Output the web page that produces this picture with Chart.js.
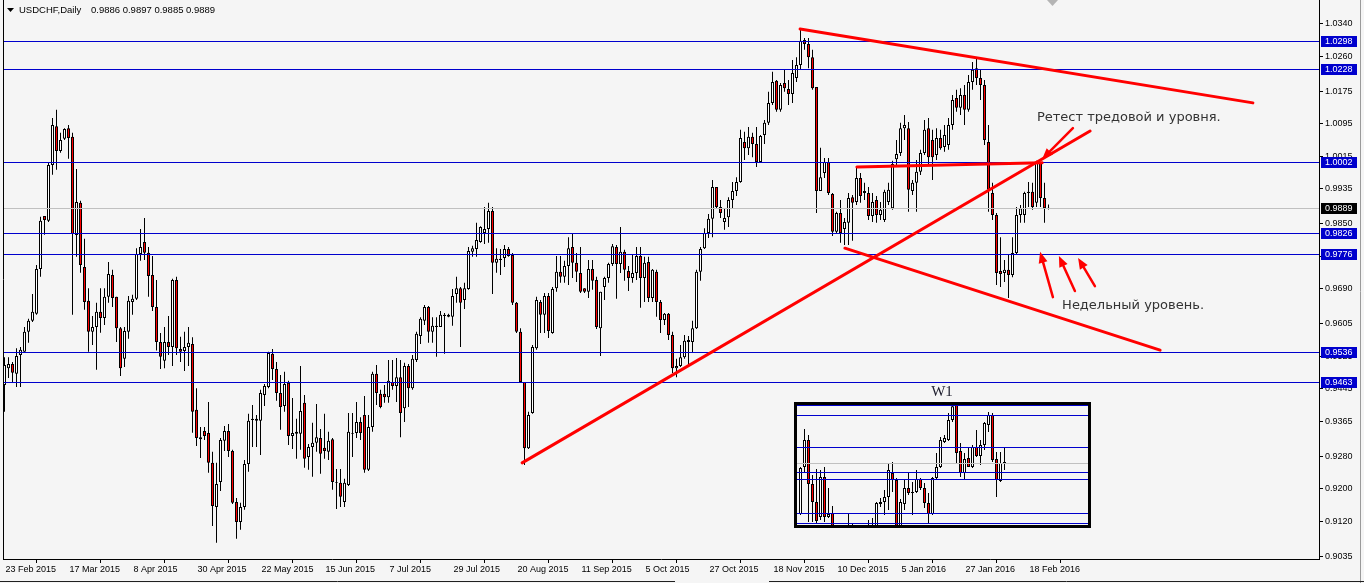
<!DOCTYPE html>
<html>
<head>
<meta charset="utf-8">
<title>USDCHF,Daily</title>
<script src="https://cdn.jsdelivr.net/npm/chart.js@4.4.1/dist/chart.umd.min.js"></script>
<style>
html, body { margin: 0; padding: 0; background: #f5f5f5; }
#wrap { position: relative; width: 1364px; height: 583px; overflow: hidden; background: #f5f5f5; }
#main { position: absolute; left: 0; top: 0; }
#inset { position: absolute; left: 794px; top: 402px; width: 297px; height: 126px; border: 3px solid #000; box-sizing: border-box; background: #f5f5f5; }
#w1 { position: absolute; left: 918px; top: 383px; width: 48px; text-align: center; font: 15px "Liberation Serif", serif; color: #1c1c2c; }
</style>
</head>
<body>
<div id="wrap">
  <canvas id="main" width="1364" height="583" style="width:1364px;height:583px"></canvas>
  <div id="w1">W1</div>
  <div id="inset"><canvas id="weekly" width="291" height="120" style="width:291px;height:120px;display:block"></canvas></div>
</div>
<script>
// daily USDCHF candles, 23 Feb 2015 .. 24 Feb 2016
const opens = [
  0.9455, 0.9496, 0.9506, 0.9482, 0.9528, 0.9536, 0.9585, 0.9612, 0.9629, 0.9739,
  0.9869, 0.9857, 0.9994, 1.0089, 1.0028, 1.0058, 1.0084, 1.0063, 0.9822, 0.9901,
  0.9744, 0.9661, 0.9585, 0.9597, 0.9634, 0.9619, 0.9671, 0.9724, 0.9671, 0.9594,
  0.9519, 0.9585, 0.9658, 0.9666, 0.9776, 0.9805, 0.9779, 0.9724, 0.9646, 0.9560,
  0.9514, 0.9560, 0.9548, 0.9712, 0.9543, 0.9538, 0.9548, 0.9555, 0.9394, 0.9322,
  0.9342, 0.9337, 0.9264, 0.9156, 0.9217, 0.9318, 0.9342, 0.9293, 0.9168, 0.9119,
  0.9156, 0.9261, 0.9369, 0.9372, 0.9367, 0.9430, 0.9450, 0.9531, 0.9494, 0.9435,
  0.9403, 0.9460, 0.9330, 0.9340, 0.9335, 0.9411, 0.9278, 0.9303, 0.9313, 0.9325,
  0.9301, 0.9291, 0.9322, 0.9217, 0.9215, 0.9168, 0.9210, 0.9337, 0.9337, 0.9364,
  0.9381, 0.9247, 0.9352, 0.9482, 0.9433, 0.9433, 0.9425, 0.9462, 0.9452, 0.9474,
  0.9398, 0.9501, 0.9447, 0.9516, 0.9575, 0.9612, 0.9646, 0.9585, 0.9597, 0.9597,
  0.9624, 0.9627, 0.9622, 0.9678, 0.9692, 0.9663, 0.9690, 0.9781, 0.9788, 0.9805,
  0.9827, 0.9837, 0.9881, 0.9754, 0.9761, 0.9766, 0.9788, 0.9773, 0.9656, 0.9585,
  0.9462, 0.9300, 0.9386, 0.9545, 0.9658, 0.9627, 0.9673, 0.9582, 0.9692, 0.9732,
  0.9720, 0.9746, 0.9793, 0.9754, 0.9729, 0.9692, 0.9683, 0.9739, 0.9712, 0.9594,
  0.9695, 0.9717, 0.9751, 0.9793, 0.9751, 0.9781, 0.9734, 0.9717, 0.9729, 0.9771,
  0.9717, 0.9756, 0.9668, 0.9732, 0.9658, 0.9614, 0.9629, 0.9577, 0.9496, 0.9501,
  0.9523, 0.9560, 0.9560, 0.9594, 0.9732, 0.9790, 0.9827, 0.9862, 0.9940, 0.9891,
  0.9854, 0.9866, 0.9908, 0.9930, 0.9952, 1.0050, 1.0035, 1.0063, 1.0045, 1.0001,
  1.0067, 1.0097, 1.0146, 1.0200, 1.0129, 1.0195, 1.0180, 1.0168, 1.0207, 1.0239,
  1.0300, 1.0290, 1.0258, 1.0185, 0.9930, 0.9974, 1.0001, 0.9923, 0.9830, 0.9876,
  0.9837, 0.9852, 0.9915, 0.9903, 0.9962, 0.9930, 0.9925, 0.9869, 0.9908, 0.9871,
  0.9859, 0.9903, 0.9888, 1.0008, 1.0023, 1.0084, 1.0084, 0.9930, 0.9950, 0.9977,
  1.0023, 1.0084, 1.0055, 1.0018, 1.0060, 1.0038, 1.0043, 1.0092, 1.0158, 1.0134,
  1.0165, 1.0129, 1.0197, 1.0231, 1.0207, 1.0190, 1.0050, 0.9925, 0.9871, 0.9734,
  0.9729, 0.9737, 0.9724, 0.9778, 0.9871, 0.9871, 0.9925, 0.9928, 0.9901, 0.9999,
  0.9913, 0.9886
];
const highs = [
  0.9523, 0.9523, 0.9511, 0.9545, 0.9548, 0.9597, 0.9617, 0.9678, 0.9749, 0.9867,
  0.9869, 1.0001, 1.0109, 1.0129, 1.0073, 1.0084, 1.0092, 1.0073, 0.9984, 0.9906,
  0.9813, 0.9692, 0.9624, 0.9656, 0.9692, 0.9692, 0.9756, 0.9737, 0.9671, 0.9597,
  0.9597, 0.9673, 0.9676, 0.9790, 0.9837, 0.9864, 0.9793, 0.9771, 0.9712, 0.9582,
  0.9597, 0.9624, 0.9715, 0.9720, 0.9573, 0.9585, 0.9597, 0.9572, 0.9447, 0.9352,
  0.9352, 0.9413, 0.9291, 0.9264, 0.9325, 0.9354, 0.9359, 0.9296, 0.9178, 0.9166,
  0.9271, 0.9384, 0.9406, 0.9381, 0.9443, 0.9457, 0.9536, 0.9543, 0.9511, 0.9479,
  0.9487, 0.9465, 0.9423, 0.9372, 0.9501, 0.9430, 0.9310, 0.9362, 0.9408, 0.9347,
  0.9384, 0.9340, 0.9325, 0.9249, 0.9249, 0.9225, 0.9386, 0.9386, 0.9413, 0.9376,
  0.9428, 0.9381, 0.9487, 0.9504, 0.9443, 0.9455, 0.9516, 0.9516, 0.9521, 0.9516,
  0.9509, 0.9506, 0.9528, 0.9585, 0.9621, 0.9651, 0.9648, 0.9621, 0.9621, 0.9636,
  0.9631, 0.9629, 0.9690, 0.9720, 0.9695, 0.9705, 0.9793, 0.9796, 0.9852, 0.9844,
  0.9891, 0.9901, 0.9891, 0.9790, 0.9788, 0.9798, 0.9793, 0.9778, 0.9658, 0.9594,
  0.9462, 0.9389, 0.9553, 0.9671, 0.9663, 0.9680, 0.9680, 0.9695, 0.9771, 0.9771,
  0.9759, 0.9817, 0.9825, 0.9778, 0.9793, 0.9692, 0.9761, 0.9761, 0.9720, 0.9683,
  0.9720, 0.9754, 0.9800, 0.9798, 0.9842, 0.9786, 0.9746, 0.9773, 0.9793, 0.9793,
  0.9769, 0.9769, 0.9739, 0.9737, 0.9663, 0.9631, 0.9631, 0.9585, 0.9519, 0.9553,
  0.9577, 0.9575, 0.9612, 0.9737, 0.9793, 0.9839, 0.9874, 0.9957, 0.9940, 0.9908,
  0.9888, 0.9915, 0.9952, 0.9964, 1.0080, 1.0075, 1.0087, 1.0073, 1.0087, 1.0067,
  1.0104, 1.0173, 1.0222, 1.0202, 1.0195, 1.0227, 1.0202, 1.0251, 1.0258, 1.0329,
  1.0305, 1.0305, 1.0276, 1.0185, 1.0036, 1.0011, 1.0011, 0.9925, 0.9879, 0.9908,
  0.9864, 0.9925, 0.9920, 0.9989, 0.9974, 0.9950, 0.9940, 0.9925, 0.9918, 0.9903,
  0.9933, 0.9950, 1.0004, 1.0055, 1.0097, 1.0116, 1.0099, 0.9957, 1.0006, 1.0031,
  1.0104, 1.0109, 1.0080, 1.0084, 1.0080, 1.0092, 1.0109, 1.0165, 1.0178, 1.0182,
  1.0190, 1.0214, 1.0246, 1.0258, 1.0227, 1.0202, 1.0092, 0.9950, 0.9876, 0.9817,
  0.9761, 0.9773, 0.9817, 0.9891, 0.9896, 0.9928, 0.9952, 0.9950, 1.0004, 1.0001,
  0.9950, 0.9897
];
const lows = [
  0.9389, 0.9472, 0.9462, 0.9450, 0.9450, 0.9536, 0.9558, 0.9609, 0.9627, 0.9720,
  0.9823, 0.9854, 0.9970, 0.9982, 1.0024, 1.0055, 1.0009, 0.9627, 0.9769, 0.9730,
  0.9639, 0.9536, 0.9553, 0.9492, 0.9583, 0.9602, 0.9656, 0.9646, 0.9560, 0.9477,
  0.9499, 0.9568, 0.9627, 0.9663, 0.9759, 0.9761, 0.9671, 0.9636, 0.9539, 0.9494,
  0.9496, 0.9528, 0.9501, 0.9528, 0.9511, 0.9489, 0.9501, 0.9338, 0.9305, 0.9276,
  0.9320, 0.9240, 0.9109, 0.9068, 0.9195, 0.9293, 0.9278, 0.9163, 0.9078, 0.9100,
  0.9149, 0.9242, 0.9303, 0.9303, 0.9283, 0.9403, 0.9447, 0.9467, 0.9416, 0.9345,
  0.9389, 0.9308, 0.9298, 0.9274, 0.9296, 0.9252, 0.9247, 0.9230, 0.9291, 0.9237,
  0.9274, 0.9271, 0.9198, 0.9151, 0.9156, 0.9156, 0.9207, 0.9278, 0.9325, 0.9320,
  0.9240, 0.9244, 0.9340, 0.9406, 0.9398, 0.9411, 0.9411, 0.9443, 0.9413, 0.9327,
  0.9364, 0.9401, 0.9443, 0.9511, 0.9555, 0.9602, 0.9558, 0.9558, 0.9524, 0.9597,
  0.9531, 0.9621, 0.9600, 0.9656, 0.9548, 0.9641, 0.9688, 0.9769, 0.9769, 0.9803,
  0.9800, 0.9803, 0.9678, 0.9730, 0.9724, 0.9744, 0.9769, 0.9651, 0.9582, 0.9460,
  0.9259, 0.9298, 0.9384, 0.9541, 0.9582, 0.9582, 0.9570, 0.9580, 0.9683, 0.9705,
  0.9705, 0.9700, 0.9717, 0.9707, 0.9680, 0.9680, 0.9668, 0.9688, 0.9592, 0.9526,
  0.9663, 0.9705, 0.9746, 0.9666, 0.9729, 0.9710, 0.9685, 0.9705, 0.9712, 0.9644,
  0.9658, 0.9658, 0.9658, 0.9622, 0.9582, 0.9602, 0.9565, 0.9484, 0.9474, 0.9499,
  0.9519, 0.9501, 0.9533, 0.9592, 0.9710, 0.9788, 0.9815, 0.9817, 0.9888, 0.9864,
  0.9835, 0.9842, 0.9886, 0.9918, 0.9950, 1.0006, 1.0018, 1.0013, 0.9989, 0.9999,
  1.0045, 1.0092, 1.0141, 1.0124, 1.0124, 1.0173, 1.0141, 1.0146, 1.0197, 1.0227,
  1.0276, 1.0231, 1.0178, 0.9876, 0.9930, 0.9962, 0.9920, 0.9820, 0.9827, 0.9803,
  0.9798, 0.9798, 0.9808, 0.9896, 0.9901, 0.9908, 0.9859, 0.9854, 0.9852, 0.9859,
  0.9854, 0.9896, 0.9884, 0.9994, 1.0016, 1.0055, 0.9879, 0.9920, 0.9879, 0.9969,
  1.0018, 0.9994, 0.9957, 1.0006, 1.0031, 1.0026, 1.0031, 1.0080, 1.0124, 1.0116,
  1.0092, 1.0124, 1.0178, 1.0190, 1.0153, 1.0043, 0.9879, 0.9859, 0.9700, 0.9695,
  0.9707, 0.9668, 0.9719, 0.9773, 0.9852, 0.9852, 0.9891, 0.9884, 0.9891, 0.9891,
  0.9852, 0.9885
];
const closes = [
  0.9504, 0.9506, 0.9485, 0.9526, 0.9541, 0.9585, 0.9612, 0.9634, 0.9739, 0.9857,
  0.9859, 0.9994, 1.0092, 1.0028, 1.0055, 1.0082, 1.0060, 0.9825, 0.9903, 0.9749,
  0.9658, 0.9585, 0.9597, 0.9634, 0.9619, 0.9671, 0.9727, 0.9668, 0.9594, 0.9496,
  0.9587, 0.9661, 0.9666, 0.9776, 0.9793, 0.9779, 0.9722, 0.9646, 0.9560, 0.9524,
  0.9560, 0.9548, 0.9712, 0.9545, 0.9536, 0.9548, 0.9558, 0.9389, 0.9325, 0.9327,
  0.9330, 0.9264, 0.9158, 0.9212, 0.9320, 0.9342, 0.9293, 0.9166, 0.9119, 0.9156,
  0.9261, 0.9367, 0.9372, 0.9367, 0.9435, 0.9452, 0.9533, 0.9494, 0.9435, 0.9401,
  0.9457, 0.9330, 0.9337, 0.9335, 0.9391, 0.9274, 0.9303, 0.9313, 0.9327, 0.9286,
  0.9293, 0.9318, 0.9217, 0.9215, 0.9181, 0.9215, 0.9340, 0.9335, 0.9364, 0.9337,
  0.9247, 0.9352, 0.9482, 0.9435, 0.9401, 0.9425, 0.9465, 0.9452, 0.9474, 0.9386,
  0.9501, 0.9447, 0.9519, 0.9580, 0.9617, 0.9646, 0.9585, 0.9600, 0.9600, 0.9627,
  0.9627, 0.9622, 0.9673, 0.9692, 0.9656, 0.9692, 0.9783, 0.9790, 0.9810, 0.9842,
  0.9837, 0.9881, 0.9754, 0.9764, 0.9764, 0.9788, 0.9771, 0.9656, 0.9585, 0.9462,
  0.9300, 0.9381, 0.9548, 0.9663, 0.9627, 0.9673, 0.9587, 0.9690, 0.9732, 0.9720,
  0.9746, 0.9790, 0.9754, 0.9732, 0.9683, 0.9683, 0.9739, 0.9710, 0.9597, 0.9683,
  0.9717, 0.9751, 0.9795, 0.9751, 0.9781, 0.9737, 0.9717, 0.9729, 0.9771, 0.9717,
  0.9754, 0.9668, 0.9737, 0.9658, 0.9614, 0.9629, 0.9577, 0.9496, 0.9501, 0.9523,
  0.9563, 0.9565, 0.9594, 0.9732, 0.9788, 0.9827, 0.9862, 0.9940, 0.9891, 0.9876,
  0.9864, 0.9908, 0.9930, 0.9952, 1.0060, 1.0035, 1.0063, 1.0045, 1.0001, 1.0065,
  1.0097, 1.0146, 1.0197, 1.0129, 1.0190, 1.0182, 1.0168, 1.0219, 1.0239, 1.0298,
  1.0290, 1.0258, 1.0182, 0.9930, 0.9964, 1.0001, 0.9925, 0.9830, 0.9876, 0.9827,
  0.9854, 0.9913, 0.9901, 0.9962, 0.9918, 0.9925, 0.9869, 0.9903, 0.9871, 0.9884,
  0.9928, 0.9933, 0.9996, 1.0021, 1.0084, 1.0092, 0.9933, 0.9950, 0.9977, 1.0023,
  1.0080, 1.0013, 1.0013, 1.0060, 1.0035, 1.0067, 1.0092, 1.0153, 1.0134, 1.0165,
  1.0129, 1.0197, 1.0227, 1.0207, 1.0190, 1.0055, 0.9933, 0.9871, 0.9729, 0.9727,
  0.9737, 0.9724, 0.9778, 0.9871, 0.9888, 0.9925, 0.9928, 0.9891, 1.0001, 0.9913,
  0.9888, 0.9889
];

// weekly candles for the W1 inset
const wOpens = [
  0.9529, 0.9861, 1.0051, 0.9741, 0.9614, 0.9508, 0.9790, 0.9508, 0.9536, 0.9380,
  0.9250, 0.9330, 0.9380, 0.9300, 0.9330, 0.9280, 0.9350, 0.9400, 0.9350, 0.9420,
  0.9600, 0.9614, 0.9649, 0.9818, 0.9769, 0.9420, 0.9600, 0.9712, 0.9684, 0.9684,
  0.9776, 0.9712, 0.9607, 0.9529, 0.9783, 0.9861, 1.0037, 1.0051, 1.0193, 1.0300,
  0.9974, 0.9818, 0.9924, 0.9861, 1.0002, 0.9938, 1.0016, 1.0157, 1.0228, 0.9917,
  0.9762, 0.9889
];
const wHighs = [
  0.9861, 1.0129, 1.0087, 0.9804, 0.9847, 0.9840, 0.9861, 0.9712, 0.9585, 0.9440,
  0.9380, 0.9440, 0.9536, 0.9465, 0.9420, 0.9400, 0.9440, 0.9487, 0.9501, 0.9614,
  0.9642, 0.9698, 0.9889, 0.9896, 0.9783, 0.9635, 0.9776, 0.9818, 0.9755, 0.9840,
  0.9783, 0.9748, 0.9677, 0.9790, 0.9960, 1.0073, 1.0087, 1.0242, 1.0330, 1.0330,
  1.0030, 0.9960, 0.9995, 1.0016, 1.0122, 1.0051, 1.0178, 1.0249, 1.0242, 0.9967,
  0.9967, 1.0002
];
const wLows = [
  0.9522, 0.9818, 0.9472, 0.9472, 0.9465, 0.9487, 0.9472, 0.9501, 0.9330, 0.9150,
  0.9080, 0.9250, 0.9250, 0.9200, 0.9220, 0.9150, 0.9280, 0.9300, 0.9250, 0.9380,
  0.9578, 0.9522, 0.9557, 0.9684, 0.9350, 0.9300, 0.9557, 0.9663, 0.9522, 0.9677,
  0.9698, 0.9571, 0.9458, 0.9522, 0.9776, 0.9854, 1.0030, 1.0044, 1.0178, 0.9889,
  0.9790, 0.9776, 0.9861, 0.9854, 0.9931, 0.9875, 0.9981, 1.0108, 0.9896, 0.9649,
  0.9755, 0.9840
];
const wCloses = [
  0.9854, 1.0051, 0.9741, 0.9614, 0.9480, 0.9790, 0.9508, 0.9529, 0.9380, 0.9250,
  0.9330, 0.9380, 0.9300, 0.9330, 0.9280, 0.9350, 0.9400, 0.9350, 0.9420, 0.9607,
  0.9614, 0.9649, 0.9840, 0.9769, 0.9420, 0.9614, 0.9712, 0.9677, 0.9677, 0.9776,
  0.9712, 0.9607, 0.9529, 0.9783, 0.9861, 1.0051, 1.0066, 1.0193, 1.0290, 0.9960,
  0.9818, 0.9917, 0.9861, 1.0002, 0.9938, 1.0016, 1.0171, 1.0228, 0.9910, 0.9769,
  0.9889, 0.9896
];

// horizontal levels and axis ticks
const levels = [1.0298, 1.0228, 1.0002, 0.9826, 0.9776, 0.9536, 0.9463];
const yTicks = [1.0340, 1.0260, 1.0175, 1.0095, 1.0015, 0.9935, 0.9850, 0.9770, 0.9690,
                0.9605, 0.9525, 0.9445, 0.9365, 0.9280, 0.9200, 0.9120, 0.9035];
const dateIdx = [0, 16, 32, 48, 64, 80, 96, 112, 128, 144, 160, 176, 192, 208, 224, 240, 256];
const dateLabels = ['23 Feb 2015', '17 Mar 2015', '8 Apr 2015', '30 Apr 2015', '22 May 2015',
  '15 Jun 2015', '7 Jul 2015', '29 Jul 2015', '20 Aug 2015', '11 Sep 2015', '5 Oct 2015',
  '27 Oct 2015', '18 Nov 2015', '10 Dec 2015', '5 Jan 2016', '27 Jan 2016', '18 Feb 2016'];

// drawn objects: [bar index, price] -> [bar index, price]
const trendLines = [
  [198.9, 1.0327, 312.1, 1.0146],
  [129.4, 0.9264, 271.4, 1.0077],
  [210.1, 0.9790, 288.9, 0.9540],
  [213.1, 0.9989, 259.4, 0.9999]
];
const arrows = [
  [267.1, 1.0084, 259.4, 1.0008],
  [262.1, 0.9670, 258.9, 0.9781],
  [267.6, 0.9685, 263.6, 0.9771],
  [272.6, 0.9697, 268.4, 0.9766]
];
const notes = [
  { text: 'Ретест тредовой и уровня.', i: 258.1, p: 1.0111 },
  { text: 'Недельный уровень.', i: 264.4, p: 0.9648 }
];

const last = closes.length - 1;
const bidPrice = closes[last];

function arrow(ctx, x1, y1, x2, y2) {
  const a = Math.atan2(y2 - y1, x2 - x1);
  const len = 11, half = 4.5;
  const bx = x2 - len * Math.cos(a), by = y2 - len * Math.sin(a);
  ctx.beginPath();
  ctx.moveTo(x1, y1);
  ctx.lineTo(bx, by);
  ctx.stroke();
  ctx.beginPath();
  ctx.moveTo(x2, y2);
  ctx.lineTo(bx + half * Math.sin(a), by - half * Math.cos(a));
  ctx.lineTo(bx - half * Math.sin(a), by + half * Math.cos(a));
  ctx.closePath();
  ctx.fill();
}

function drawLevels(ctx, area, y) {
  const hline = v => {
    const py = Math.round(y.getPixelForValue(v)) + 0.5;
    ctx.beginPath();
    ctx.moveTo(area.left, py);
    ctx.lineTo(area.right, py);
    ctx.stroke();
  };
  ctx.lineWidth = 1;
  ctx.strokeStyle = '#c0c0c0';
  hline(bidPrice);
  ctx.strokeStyle = '#0000cd';
  levels.forEach(hline);
}

const overlay = {
  id: 'overlay',
  afterDatasetsDraw(chart) {
    const { ctx, chartArea: a, scales: { x, y } } = chart;
    ctx.save();
    ctx.beginPath();
    ctx.rect(a.left, a.top, a.right - a.left, a.bottom - a.top);
    ctx.clip();
    drawLevels(ctx, a, y);

    ctx.strokeStyle = '#ff0000';
    ctx.fillStyle = '#ff0000';
    ctx.lineWidth = 3;
    ctx.lineCap = 'round';
    trendLines.forEach(([i1, p1, i2, p2]) => {
      ctx.beginPath();
      ctx.moveTo(x.getPixelForValue(i1), y.getPixelForValue(p1));
      ctx.lineTo(x.getPixelForValue(i2), y.getPixelForValue(p2));
      ctx.stroke();
    });
    ctx.lineWidth = 2.5;
    arrows.forEach(([i1, p1, i2, p2]) => {
      arrow(ctx, x.getPixelForValue(i1), y.getPixelForValue(p1), x.getPixelForValue(i2), y.getPixelForValue(p2));
    });

    ctx.fillStyle = '#333333';
    ctx.font = '13px "DejaVu Sans"';
    ctx.textBaseline = 'middle';
    ctx.textAlign = 'left';
    notes.forEach(n => ctx.fillText(n.text, x.getPixelForValue(n.i), y.getPixelForValue(n.p)));
    ctx.restore();
  },
  afterDraw(chart) {
    const { ctx, chartArea: a, scales: { y } } = chart;
    ctx.save();
    // left frame line
    ctx.strokeStyle = '#000';
    ctx.lineWidth = 1;
    ctx.beginPath();
    ctx.moveTo(a.left + 0.5, 0);
    ctx.lineTo(a.left + 0.5, a.bottom);
    ctx.stroke();
    // window edges
    ctx.strokeStyle = '#9a9a9a';
    ctx.beginPath();
    ctx.moveTo(1360.5, 0);
    ctx.lineTo(1360.5, 583);
    ctx.stroke();
    ctx.strokeStyle = '#202020';
    ctx.beginPath();
    ctx.moveTo(0, 581.5); ctx.lineTo(675, 581.5);
    ctx.moveTo(769, 581.5); ctx.lineTo(1364, 581.5);
    ctx.stroke();

    // price tags on the right scale
    ctx.font = '9px "Liberation Sans"';
    ctx.textBaseline = 'middle';
    ctx.textAlign = 'left';
    const tag = (v, bg) => {
      const py = Math.round(y.getPixelForValue(v));
      ctx.fillStyle = bg;
      ctx.fillRect(a.right + 2, py - 5, 36, 11);
      ctx.fillStyle = '#ffffff';
      ctx.fillText(v.toFixed(4), a.right + 6, py + 0.5);
    };
    levels.forEach(v => tag(v, '#0000cd'));
    tag(bidPrice, '#000000');

    // header
    ctx.fillStyle = '#000';
    ctx.beginPath();
    ctx.moveTo(7, 8); ctx.lineTo(14, 8); ctx.lineTo(10.5, 12);
    ctx.closePath();
    ctx.fill();
    ctx.font = '9.5px "Liberation Sans"';
    ctx.fillText('USDCHF,Daily', 19, 10);
    ctx.fillText([opens[last], highs[last], lows[last], closes[last]].map(v => v.toFixed(4)).join(' '), 91, 10);

    // chart shift marker
    ctx.fillStyle = '#b4b4b4';
    ctx.beginPath();
    ctx.moveTo(1047, 0); ctx.lineTo(1058, 0); ctx.lineTo(1052.5, 6);
    ctx.closePath();
    ctx.fill();
    ctx.restore();
  }
};

const idx = opens.map((_, i) => i);

new Chart(document.getElementById('main'), {
  type: 'bar',
  data: {
    datasets: [
      {
        label: 'wicks',
        data: idx.map(i => ({ x: i, y: [lows[i], highs[i]] })),
        backgroundColor: '#000',
        borderWidth: 0,
        barThickness: 1,
        grouped: false,
        inflateAmount: 0,
        order: 2
      },
      {
        label: 'bodies',
        data: idx.map(i => ({ x: i, y: [opens[i], closes[i]] })),
        backgroundColor: idx.map(i => closes[i] < opens[i] ? '#ff0000' : '#ffffff'),
        borderColor: '#000',
        borderWidth: 1,
        borderSkipped: false,
        barThickness: 3,
        grouped: false,
        inflateAmount: 0,
        order: 1
      }
    ]
  },
  options: {
    responsive: false,
    animation: false,
    events: [],
    layout: { padding: { left: 3, top: 0, right: 0, bottom: 0 } },
    plugins: { legend: { display: false }, tooltip: { enabled: false } },
    scales: {
      x: {
        type: 'linear',
        min: -0.375,
        max: 328.625,
        offset: false,
        afterBuildTicks: s => { s.ticks = dateIdx.map(v => ({ value: v })); },
        afterFit: s => { s.height = 24; s.paddingLeft = 0; s.paddingRight = 0; },
        ticks: {
          autoSkip: false, maxRotation: 0, minRotation: 0, align: 'start', padding: 1, labelOffset: 1,
          color: '#000', font: { family: 'Liberation Sans', size: 9 },
          callback: v => dateLabels[dateIdx.indexOf(v)]
        },
        grid: { drawOnChartArea: false, drawTicks: true, tickLength: 4, color: '#000' },
        border: { display: true, color: '#000' }
      },
      y: {
        type: 'linear',
        position: 'right',
        min: 0.902838,
        max: 1.039807,
        afterBuildTicks: s => { s.ticks = yTicks.map(v => ({ value: v })); },
        afterFit: s => { s.width = 45; s.paddingTop = 0; s.paddingBottom = 0; },
        ticks: {
          autoSkip: false, padding: 2, color: '#000',
          font: { family: 'Liberation Sans', size: 9 },
          callback: v => v.toFixed(4)
        },
        grid: { drawOnChartArea: false, drawTicks: true, tickLength: 4, color: '#000' },
        border: { display: true, color: '#000' }
      }
    }
  },
  plugins: [overlay]
});

// W1 inset
const wIdx = wOpens.map((_, i) => i);
const insetLevels = {
  id: 'insetLevels',
  afterDatasetsDraw(chart) {
    const { ctx, chartArea: a, scales: { y } } = chart;
    ctx.save();
    drawLevels(ctx, a, y);
    ctx.restore();
  }
};

new Chart(document.getElementById('weekly'), {
  type: 'bar',
  data: {
    datasets: [
      {
        label: 'wicks',
        data: wIdx.map(i => ({ x: i, y: [wLows[i], wHighs[i]] })),
        backgroundColor: '#000',
        borderWidth: 0,
        barThickness: 1,
        grouped: false,
        inflateAmount: 0,
        order: 2
      },
      {
        label: 'bodies',
        data: wIdx.map(i => ({ x: i, y: [wOpens[i], wCloses[i]] })),
        backgroundColor: wIdx.map(i => wCloses[i] < wOpens[i] ? '#ff0000' : '#ffffff'),
        borderColor: '#000',
        borderWidth: 1,
        borderSkipped: false,
        barThickness: 3,
        grouped: false,
        inflateAmount: 0,
        order: 1
      }
    ]
  },
  options: {
    responsive: false,
    animation: false,
    events: [],
    layout: { padding: 0 },
    plugins: { legend: { display: false }, tooltip: { enabled: false } },
    scales: {
      x: { type: 'linear', display: false, min: -0.875, max: 71.875, offset: false },
      y: { type: 'linear', display: false, min: 0.94511, max: 1.02986 }
    }
  },
  plugins: [insetLevels]
});
</script>
</body>
</html>
